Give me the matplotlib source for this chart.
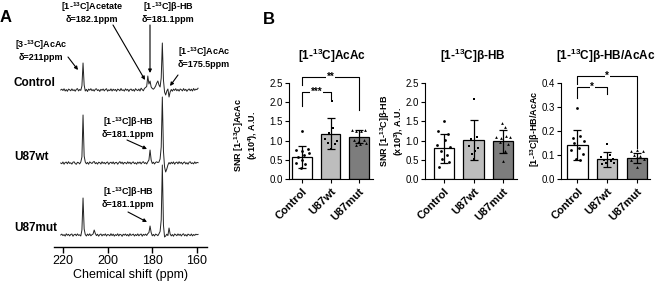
import numpy as np
import matplotlib.pyplot as plt
from matplotlib.transforms import ScaledTranslation

plt.rcParams['font.family'] = ['Liberation Sans', 'DejaVu Sans']
plt.rcParams['mathtext.fontset'] = 'custom'
plt.rcParams['mathtext.rm'] = 'Liberation Sans'
plt.rcParams['mathtext.bf'] = 'Liberation Sans:bold'

W, H = 659, 290

# ---- panel A: 13C spectra (ppm grid 221 -> 159.5, step 0.5) ----
ppm = np.arange(221.0, 159.0, -0.5)
spec_control = [
    0.0, 0.8, -0.5, 1.2, -1.0, 0.4, -1.3, 0.9, 0.2, -0.8,
    1.1, -0.6, 0.3, -1.2, 0.7, 1.4, -0.9, 0.5, -0.4, 4.0,
    27.0, 5.0, -1.0, 0.6, -1.5, 0.9, -0.2, 1.3, -0.7, 0.4,
    -1.1, 0.8, 1.2, -0.6, 0.3, -1.4, 0.7, -0.3, 1.0, -0.9,
    0.5, 1.3, -1.2, 0.2, -0.6, 1.1, -1.0, 0.8, -0.4, 0.6,
    -1.3, 0.9, 0.3, -0.8, 1.5, -0.5, 0.2, -1.1, 1.2, -0.3,
    0.7, -1.4, 0.4, 1.0, -0.7, 0.5, -1.2, 1.3, 0.1, -0.6,
    0.9, -1.0, 1.8, 0.4, -0.8, 1.6, 2.5, 3.5, 14.0, 6.0,
    9.0, 3.0, 1.5, 0.8, 2.0, 4.0, 7.0, 9.0, 5.0, 3.0,
    12.0, 47.0, 10.0, -2.0, -5.0, -1.0, 1.0, -7.0, -2.0, 0.5,
    -1.2, 0.9, -0.4, 1.3, -0.8, 0.6, -1.1, 1.0, 0.3, -0.9,
    1.4, -0.5, 0.7, -1.3, 0.2, 1.1, -0.7, 0.8, -1.0, 1.5,
    -0.3, 0.9, 0.4, 1.8]
spec_wt = [
    0.0, -0.7, 1.0, -1.2, 0.5, 0.9, -0.8, 1.3, -0.4, 0.2,
    -1.1, 0.8, 1.2, -0.6, -1.3, 0.7, 0.3, -0.9, 1.0, 6.0,
    48.0, 7.0, 1.0, -0.8, 0.6, -1.2, 1.1, 0.2, -0.5, 0.9,
    1.5, -0.7, 0.4, -1.1, 0.8, 0.3, -1.0, 1.2, -0.4, 0.6,
    -0.9, 0.5, 1.0, -1.3, 0.2, 0.8, -0.6, 1.1, -1.0, 0.4,
    0.7, -1.2, 0.3, 1.4, -0.5, 0.9, -1.1, 0.6, 0.2, -0.8,
    1.2, -0.4, 0.8, -1.0, 0.5, 1.1, -0.7, 0.3, -1.2, 0.9,
    -0.3, 1.0, -0.9, 0.6, 1.3, -0.5, 0.4, -1.0, 1.2, 3.0,
    13.0, 3.0, -0.5, 0.8, -1.0, 0.6, 1.2, 0.4, 1.0, 4.0,
    16.0, 66.0, 12.0, -4.0, -9.0, -6.0, -2.0, 0.5, -1.0, 0.8,
    -0.6, 1.1, -1.2, 0.4, 0.9, -0.8, 1.3, -0.3, 0.7, -1.1,
    0.5, 1.0, -0.9, 0.3, -1.2, 0.8, 1.2, -0.6, 0.2, -0.9,
    1.1, -0.4, 0.6, 0.3]
spec_mut = [
    0.0, 0.9, -0.6, 0.4, -1.1, 1.2, -0.3, 0.7, -0.9, 0.5,
    1.0, -1.2, 0.3, 0.8, -0.7, 1.1, -0.4, 0.2, -1.0, 5.0,
    37.0, 6.0, 0.5, -1.0, 0.9, -0.5, 1.2, -0.8, 0.3, 1.0,
    5.0, 1.5, -0.6, 0.8, -1.2, 0.4, 1.0, -0.9, 0.6, -0.3,
    1.1, -1.0, 0.5, 0.2, -0.8, 1.3, -0.6, 0.9, -1.1, 0.4,
    -0.5, 1.2, -0.9, 0.7, 0.3, -1.3, 0.8, -0.2, 1.0, -0.7,
    0.6, -1.1, 1.3, -0.4, 0.2, 0.9, -1.0, 0.5, -0.6, 1.1,
    -0.8, 0.4, 1.0, -1.2, 0.7, -0.3, 0.9, -0.5, 1.4, 2.5,
    9.0, 2.5, -0.8, 0.6, -1.0, 0.9, 0.3, -0.7, 1.2, 3.5,
    15.0, 70.0, 10.0, -2.0, -1.0, 0.8, -0.6, 7.0, 1.0, -0.9,
    0.5, -1.2, 1.0, 0.3, -0.7, 1.1, -0.4, 0.8, -1.0, 0.6,
    1.2, -0.8, 0.4, -1.1, 0.9, 0.2, -0.6, 1.0, -0.9, 0.5,
    -0.4, 0.8, 0.3, 0.6]
spec_names = ['Control', 'U87wt', 'U87mut']
ppm_ticks = [220, 200, 180, 160]

# ---- panel B: bar data ----
groups = ['Control', 'U87wt', 'U87mut']

acac_mean = [0.58, 1.18, 1.10]
acac_sd = [0.29, 0.41, 0.17]
acac_pts = [
    [1.24, 0.76, 0.74, 0.77, 0.58, 0.62, 0.69, 0.49, 0.42, 0.39, 0.28],
    [2.04, 1.32, 1.20, 1.03, 1.00, 0.93, 0.92, 0.77],
    [1.28, 1.25, 1.24, 1.27, 1.02, 0.97, 1.01, 0.90, 0.89, 0.94]]
acac_jit = [
    [0.0, -0.22, 0.0, 0.2, -0.15, 0.08, 0.25, -0.02, -0.2, 0.1, -0.05],
    [0.05, 0.08, -0.05, -0.2, 0.22, -0.1, 0.15, 0.0],
    [-0.25, -0.1, 0.08, 0.22, -0.18, -0.03, 0.17, 0.05, -0.12, 0.25]]

bhb_mean = [0.80, 1.02, 0.98]
bhb_sd = [0.38, 0.52, 0.29]
bhb_pts = [
    [1.50, 1.25, 1.18, 1.02, 0.88, 0.83, 0.72, 0.62, 0.52, 0.45, 0.30],
    [2.08, 1.10, 1.05, 0.85, 0.82, 0.74, 0.66, 0.52],
    [1.46, 1.36, 1.10, 1.08, 1.12, 1.09, 0.96, 0.90, 0.74, 0.48]]
bhb_jit = [
    [0.0, -0.2, 0.15, 0.05, -0.22, 0.2, -0.1, 0.12, -0.05, 0.18, -0.15],
    [0.0, 0.12, -0.1, -0.15, 0.15, 0.05, -0.05, 0.0],
    [-0.05, 0.05, -0.25, -0.08, 0.1, 0.25, -0.12, 0.18, 0.08, 0.0]]

ratio_mean = [0.143, 0.083, 0.088]
ratio_sd = [0.062, 0.031, 0.022]
ratio_pts = [
    [0.295, 0.18, 0.17, 0.16, 0.15, 0.13, 0.12, 0.105, 0.085, 0.078],
    [0.145, 0.10, 0.09, 0.085, 0.08, 0.075, 0.068, 0.065, 0.062],
    [0.122, 0.115, 0.115, 0.100, 0.095, 0.090, 0.085, 0.080, 0.05]]
ratio_jit = [
    [0.0, 0.1, -0.15, 0.22, -0.1, 0.05, -0.22, 0.18, -0.05, 0.1],
    [0.0, 0.1, -0.2, 0.2, -0.1, 0.12, -0.05, 0.22, -0.18],
    [0.0, -0.22, 0.2, -0.12, 0.08, -0.02, 0.22, -0.2, 0.0]]

bar_colors = ['white', '#bdbdbd', '#7d7d7d']
markers = ['o', 's', '^']


def box(l, t, r, b):
    return [l / W, 1 - b / H, (r - l) / W, (b - t) / H]


fig = plt.figure(figsize=(W / 100, H / 100), dpi=100)

# spectra
axA = fig.add_axes(box(54, 0, 207, 247))
for spec, off in zip([spec_control, spec_wt, spec_mut], [157, 84, 12]):
    axA.plot(ppm, np.array(spec) + off, color='#222222', lw=0.7)
axA.set_xlim(224, 155.5)
axA.set_ylim(0, 247)
for s in ['left', 'top', 'right']:
    axA.spines[s].set_visible(False)
axA.spines['bottom'].set_linewidth(1.0)
axA.set_yticks([])
axA.set_xticks(ppm_ticks)
axA.tick_params(axis='x', length=4, width=1, labelsize=9, pad=2)
axA.set_xlabel('Chemical shift (ppm)', fontsize=9, labelpad=1)
axA.patch.set_visible(False)

shift = ScaledTranslation(7 / 100, -6 / 100, fig.dpi_scale_trans)


def bar_panel(rect, xlim, ylim, yticks, ytl, mean, sd, pts, jit):
    ax = fig.add_axes(box(*rect))
    x = np.arange(3)
    ax.bar(x, mean, width=0.68, color=bar_colors, edgecolor='black', lw=0.9, zorder=1)
    ax.errorbar(x, mean, yerr=sd, fmt='none', ecolor='black', elinewidth=0.9,
                capsize=3, capthick=0.9, zorder=3)
    for i in range(3):
        ax.scatter(np.array(jit[i]) + i, pts[i], marker=markers[i], s=4,
                   color='black', zorder=4, linewidths=0)
    ax.set_xlim(*xlim)
    ax.set_ylim(*ylim)
    ax.set_yticks(yticks)
    ax.set_yticklabels(ytl)
    ax.set_xticks(x)
    ax.set_xticklabels(groups, rotation=45, ha='right', va='top',
                       rotation_mode='anchor', fontweight='bold', fontsize=8)
    for lab in ax.get_xticklabels():
        lab.set_transform(lab.get_transform() + shift)
    ax.spines['top'].set_visible(False)
    ax.spines['right'].set_visible(False)
    ax.tick_params(axis='y', length=3, labelsize=7, pad=1.5)
    ax.tick_params(axis='x', length=3, pad=2)
    ax.patch.set_visible(False)
    return ax


def bracket(ax, x0, x1, y, yl, yr, label):
    ax.plot([x0, x0, x1, x1], [yl, y, y, yr], color='black', lw=0.8, clip_on=False)
    ax.text((x0 + x1) / 2, y, label, ha='center', va='center', fontsize=7,
            fontweight='bold', bbox=dict(facecolor='white', edgecolor='none', pad=0.3))


ax1 = bar_panel((289, 83, 373, 179), (-0.46, 2.49), (0, 2.5),
                [0, 0.5, 1.0, 1.5, 2.0, 2.5], ['0.0', '0.5', '1.0', '1.5', '2.0', '2.5'],
                acac_mean, acac_sd, acac_pts, acac_jit)
bracket(ax1, 0, 1, 2.27, 1.90, 2.08, '***')
bracket(ax1, 0, 2, 2.66, 2.45, 1.80, '**')

ax2 = bar_panel((425, 83, 517, 179), (-0.64, 2.47), (0, 2.5),
                [0, 0.5, 1.0, 1.5, 2.0, 2.5], ['0.0', '0.5', '1.0', '1.5', '2.0', '2.5'],
                bhb_mean, bhb_sd, bhb_pts, bhb_jit)

ax3 = bar_panel((561, 83, 650, 179), (-0.55, 2.43), (0, 0.4),
                [0, 0.1, 0.2, 0.3, 0.4], ['0.0', '0.1', '0.2', '0.3', '0.4'],
                ratio_mean, ratio_sd, ratio_pts, ratio_jit)
bracket(ax3, 0, 1, 0.383, 0.337, 0.354, '*')
bracket(ax3, 0, 2, 0.43, 0.396, 0.13, '*')

# overlay for labels and arrows, in pixel coordinates
ov = fig.add_axes([0, 0, 1, 1], zorder=5)
ov.set_xlim(0, W)
ov.set_ylim(H, 0)
ov.axis('off')

ov.text(6, 18, 'A', fontsize=12, fontweight='bold', ha='center', va='center')
ov.text(269, 19, 'B', fontsize=12, fontweight='bold', ha='center', va='center')

for name, y in zip(spec_names, [83, 157, 228]):
    ov.text(14, y, name, fontsize=8.5, fontweight='bold', ha='left', va='center')

ann = dict(fontsize=6.5, fontweight='bold', ha='center', va='center',
           multialignment='center', linespacing=1.1)
ov.text(41, 50, '[3-$^{\\mathbf{13}}$C]AcAc\nδ=211ppm', **ann)
ov.text(92, 12, '[1-$^{\\mathbf{13}}$C]Acetate\nδ=182.1ppm', **ann)
ov.text(168, 12, '[1-$^{\\mathbf{13}}$C]β-HB\nδ=181.1ppm', **ann)
ov.text(204, 57, '[1-$^{\\mathbf{13}}$C]AcAc\nδ=175.5ppm', **ann)
ov.text(128, 127, '[1-$^{\\mathbf{13}}$C]β-HB\nδ=181.1ppm', **ann)
ov.text(128, 197, '[1-$^{\\mathbf{13}}$C]β-HB\nδ=181.1ppm', **ann)

arrows = [((68, 57), (78, 70)), ((113, 25), (145, 80)), ((150, 25), (150, 73)),
          ((178, 75), (170, 86)), ((127, 140), (147, 149)), ((128, 212), (147, 222))]
for (x1, y1), (x2, y2) in arrows:
    ov.annotate('', xy=(x2, y2), xytext=(x1, y1),
                arrowprops=dict(arrowstyle='-|>', lw=0.8, color='black',
                                mutation_scale=5, shrinkA=0, shrinkB=0))

tt = dict(fontsize=8.5, fontweight='bold', ha='center', va='center')
ov.text(332, 56, '[1-$^{\\mathbf{13}}$C]AcAc', **tt)
ov.text(473, 56, '[1-$^{\\mathbf{13}}$C]β-HB', **tt)
ov.text(606, 56, '[1-$^{\\mathbf{13}}$C]β-HB/AcAc', **tt)

yl = dict(fontsize=6.5, fontweight='bold', ha='center', va='center', rotation=90,
          multialignment='center', linespacing=1.0)
ov.text(246, 135, 'SNR [1-$^{\\mathbf{13}}$C]AcAc\n(x10$^{\\mathbf{4}}$), A.U.', **yl)
ov.text(392, 131, 'SNR [1-$^{\\mathbf{13}}$C]β-HB\n(x10$^{\\mathbf{3}}$), A.U.', **yl)
ov.text(535, 129, '[1-$^{\\mathbf{13}}$C]β-HB/AcAc', **yl)

fig.savefig('out.png', dpi=100)
